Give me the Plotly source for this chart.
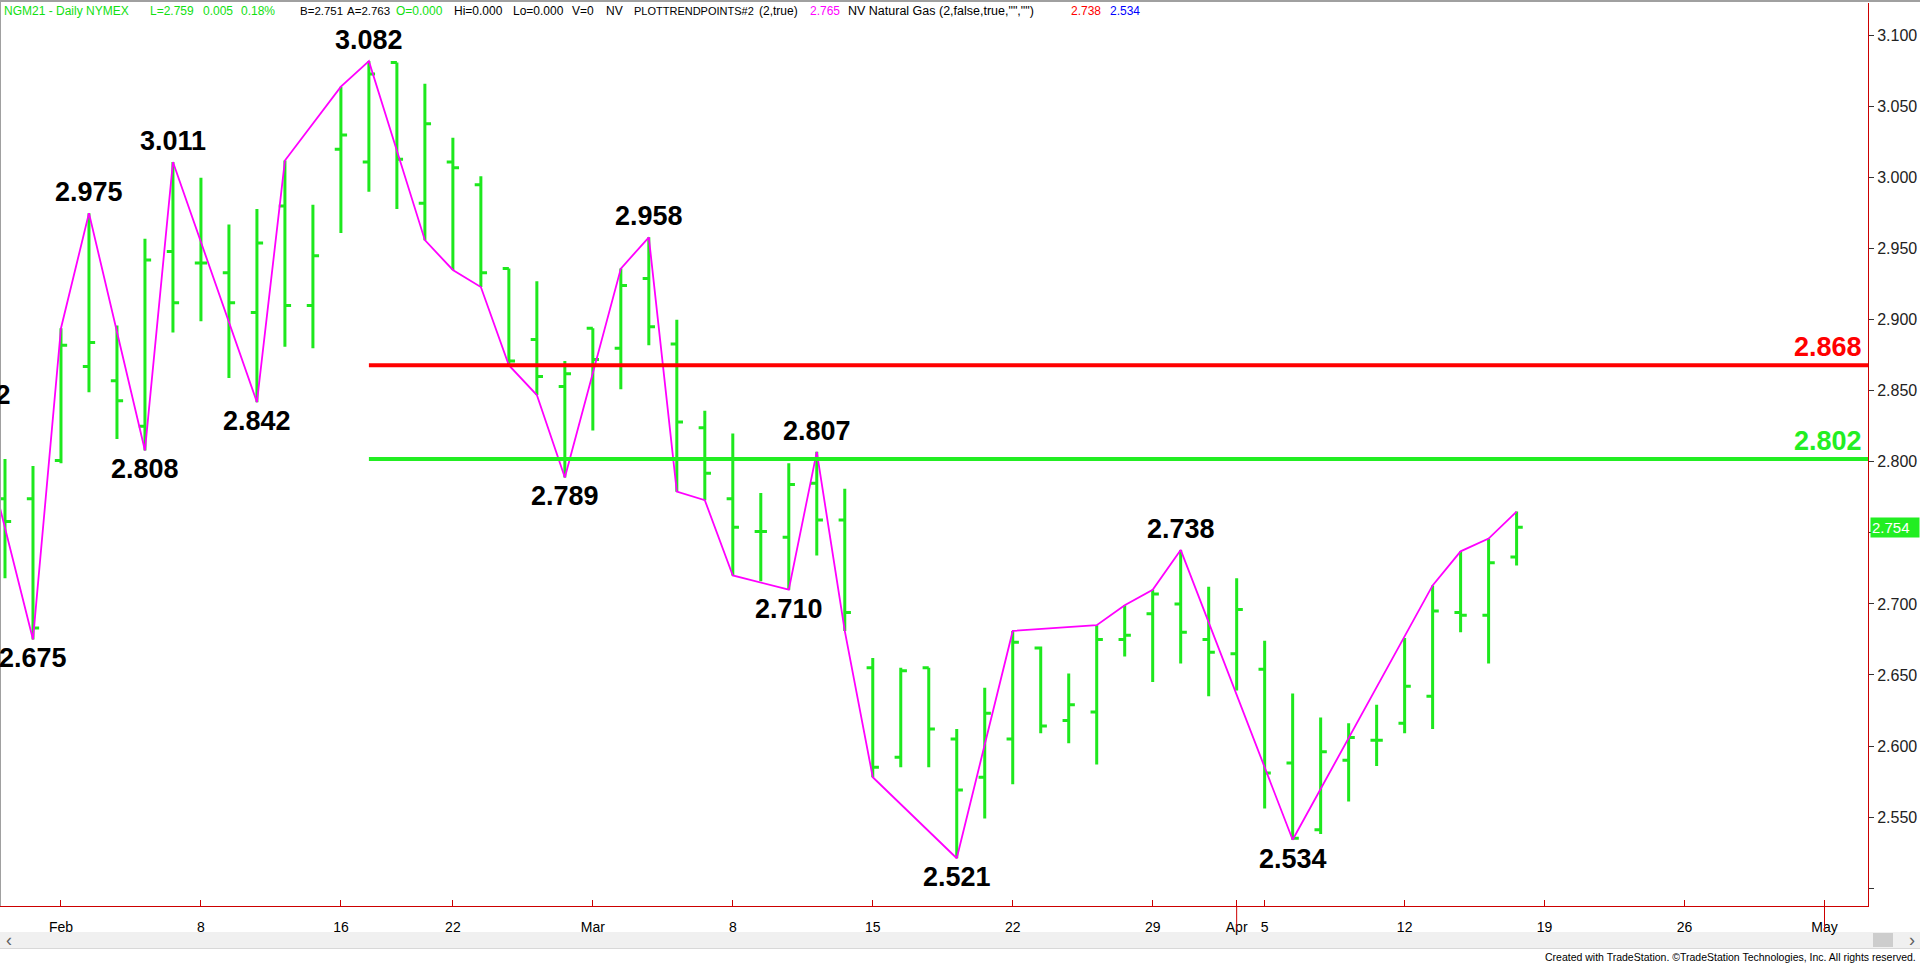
import plotly.graph_objects as go

# ---------------- data ----------------
dates = ["2021-01-28", "2021-01-29",
         "2021-02-01", "2021-02-02", "2021-02-03", "2021-02-04", "2021-02-05",
         "2021-02-08", "2021-02-09", "2021-02-10", "2021-02-11", "2021-02-12",
         "2021-02-16", "2021-02-17", "2021-02-18", "2021-02-19",
         "2021-02-22", "2021-02-23", "2021-02-24", "2021-02-25", "2021-02-26",
         "2021-03-01", "2021-03-02", "2021-03-03", "2021-03-04", "2021-03-05",
         "2021-03-08", "2021-03-09", "2021-03-10", "2021-03-11", "2021-03-12",
         "2021-03-15", "2021-03-16", "2021-03-17", "2021-03-18", "2021-03-19",
         "2021-03-22", "2021-03-23", "2021-03-24", "2021-03-25", "2021-03-26",
         "2021-03-29", "2021-03-30", "2021-03-31", "2021-04-01",
         "2021-04-05", "2021-04-06", "2021-04-07", "2021-04-08", "2021-04-09",
         "2021-04-12", "2021-04-13", "2021-04-14", "2021-04-15", "2021-04-16"]
opens = [2.774, 2.774,
         2.801, 2.867, 2.857, 2.825, 2.948,
         2.940, 2.933, 2.905, 2.980, 2.910,
         3.020, 3.011, 3.081, 2.982,
         3.011, 2.995, 2.936, 2.886, 2.853,
         2.894, 2.880, 2.929, 2.883, 2.824,
         2.774, 2.751, 2.747, 2.785, 2.759,
         2.655, 2.592, 2.655, 2.605, 2.578,
         2.605, 2.669, 2.618, 2.624, 2.675,
         2.693, 2.700, 2.675, 2.665,
         2.654, 2.588, 2.541, 2.590, 2.604,
         2.616, 2.635, 2.694, 2.692, 2.733]
highs = [2.802, 2.797,
         2.894, 2.975, 2.896, 2.957, 3.011,
         3.000, 2.967, 2.978, 3.012, 2.981,
         3.064, 3.082, 3.081, 3.066,
         3.028, 3.001, 2.936, 2.927, 2.871,
         2.894, 2.936, 2.958, 2.900, 2.836,
         2.820, 2.778, 2.799, 2.807, 2.781,
         2.662, 2.655, 2.655, 2.612, 2.641,
         2.681, 2.670, 2.651, 2.685, 2.699,
         2.710, 2.738, 2.712, 2.718,
         2.674, 2.637, 2.620, 2.616, 2.629,
         2.676, 2.713, 2.737, 2.746, 2.765]
lows = [2.718, 2.675,
        2.799, 2.849, 2.816, 2.808, 2.891,
        2.899, 2.859, 2.842, 2.881, 2.880,
        2.961, 2.990, 2.978, 2.956,
        2.935, 2.923, 2.868, 2.847, 2.789,
        2.822, 2.851, 2.882, 2.779, 2.773,
        2.720, 2.716, 2.710, 2.734, 2.681,
        2.578, 2.585, 2.585, 2.521, 2.549,
        2.573, 2.609, 2.602, 2.587, 2.663,
        2.645, 2.658, 2.635, 2.639,
        2.556, 2.534, 2.538, 2.561, 2.586,
        2.609, 2.612, 2.680, 2.658, 2.727]
closes = [2.758, 2.683,
          2.882, 2.884, 2.843, 2.942, 2.912,
          2.940, 2.912, 2.954, 2.910, 2.945,
          3.030, 3.073, 3.013, 3.038,
          3.007, 2.933, 2.871, 2.860, 2.862,
          2.872, 2.924, 2.895, 2.828, 2.792,
          2.754, 2.751, 2.784, 2.759, 2.694,
          2.585, 2.653, 2.612, 2.569, 2.623,
          2.673, 2.614, 2.629, 2.675, 2.678,
          2.707, 2.680, 2.666, 2.696,
          2.581, 2.535, 2.596, 2.606, 2.604,
          2.642, 2.695, 2.692, 2.729, 2.754]

# PlotTrendPoints swing line
trend_dates = ["2021-01-27", "2021-01-29", "2021-02-01", "2021-02-02", "2021-02-04",
               "2021-02-05", "2021-02-10", "2021-02-11", "2021-02-16", "2021-02-17",
               "2021-02-19", "2021-02-22", "2021-02-23", "2021-02-24", "2021-02-25",
               "2021-02-26", "2021-03-02", "2021-03-03", "2021-03-04", "2021-03-05",
               "2021-03-08", "2021-03-10", "2021-03-11", "2021-03-12", "2021-03-15",
               "2021-03-18", "2021-03-22", "2021-03-25", "2021-03-26", "2021-03-29",
               "2021-03-30", "2021-04-06", "2021-04-13", "2021-04-14", "2021-04-15",
               "2021-04-16"]
trend_values = [2.832, 2.675, 2.894, 2.975, 2.808,
                3.011, 2.842, 3.012, 3.064, 3.082,
                2.956, 2.935, 2.923, 2.868, 2.847,
                2.789, 2.936, 2.958, 2.779, 2.773,
                2.720, 2.710, 2.807, 2.681, 2.578,
                2.521, 2.681, 2.685, 2.699, 2.710,
                2.738, 2.534, 2.713, 2.737, 2.746,
                2.765]

# labelled swing pivots
pivot_dates = ["2021-01-29", "2021-02-02", "2021-02-04", "2021-02-05", "2021-02-10",
               "2021-02-17", "2021-02-26", "2021-03-03", "2021-03-10", "2021-03-11",
               "2021-03-18", "2021-03-30", "2021-04-06"]
pivot_values = [2.675, 2.975, 2.808, 3.011, 2.842,
                3.082, 2.789, 2.958, 2.710, 2.807,
                2.521, 2.738, 2.534]
pivot_kinds = ["low", "high", "low", "high", "low",
               "high", "low", "high", "low", "high",
               "low", "high", "low"]
# pivot just left of the visible window (only its last digit shows)
offscreen_pivot_value = 2.832

level_values = [2.868, 2.802]
level_colors = ["#ff0000", "#22ee22"]
level_start = "2021-02-17"

last_price = 2.754

tick_dates = ["2021-02-01", "2021-02-08", "2021-02-16", "2021-02-22", "2021-03-01",
              "2021-03-08", "2021-03-15", "2021-03-22", "2021-03-29", "2021-04-01",
              "2021-04-05", "2021-04-12", "2021-04-19", "2021-04-26", "2021-05-03"]
tick_labels = ["Feb", "8", "16", "22", "Mar", "8", "15", "22", "29", "Apr",
               "5", "12", "19", "26", "May"]
month_marks = ["2021-04-01", "2021-05-03"]
ytick_vals = [2.50, 2.55, 2.60, 2.65, 2.70, 2.75, 2.80, 2.85, 2.90, 2.95, 3.00, 3.05, 3.10]
ytick_hidden = [2.50, 2.75]   # unlabeled (covered by the last-price box at 2.75)
ytick_text = ["" if v in ytick_hidden else "%.3f" % v for v in ytick_vals]

# ---------------- layout geometry ----------------
W, H = 1920, 963
PL, PR, PT, PB = 0, 1868, 3, 906


def xp(px):
    return (px - PL) / (PR - PL)


def yp(py):
    return (PB - py) / (PB - PT)


BAR_GREEN = "#1ee81e"
ARIAL = "Liberation Sans, Arial, sans-serif"
HEAD_GREEN = "#11e011"

fig = go.Figure()

fig.add_trace(go.Ohlc(
    x=dates, open=opens, high=highs, low=lows, close=closes,
    increasing=dict(line=dict(color=BAR_GREEN, width=3)),
    decreasing=dict(line=dict(color=BAR_GREEN, width=3)),
    tickwidth=0.22, hoverinfo="skip", showlegend=False,
))

fig.add_trace(go.Scatter(
    x=trend_dates, y=trend_values, mode="lines",
    line=dict(color="#ff00ff", width=1.8),
    hoverinfo="skip", showlegend=False,
))

shapes = []
annotations = []

# support / resistance levels
for val, col in zip(level_values, level_colors):
    shapes.append(dict(type="line", xref="x", yref="y", x0=level_start, x1="2021-05-20",
                       y0=val, y1=val, line=dict(color=col, width=4), layer="above"))
    annotations.append(dict(xref="paper", yref="y", x=xp(1864), y=val, xanchor="right",
                            yanchor="bottom", yshift=1, text="%.3f" % val, showarrow=False,
                            font=dict(family=ARIAL, size=27, color=col, weight=700)))

# pivot labels
for d, v, k in zip(pivot_dates, pivot_values, pivot_kinds):
    annotations.append(dict(
        xref="x", yref="y", x=d, y=v, text="%.3f" % v, showarrow=False,
        xanchor="center", yanchor="bottom" if k == "high" else "top",
        yshift=4 if k == "high" else -2,
        font=dict(family=ARIAL, size=27, color="black", weight=700)))
# off-screen pivot (Jan 27): anchored on first visible bar, shifted one bar left
annotations.append(dict(
    xref="x", yref="y", x=dates[0], y=offscreen_pivot_value, xshift=-28,
    text="%.3f" % offscreen_pivot_value, showarrow=False, xanchor="center",
    yanchor="bottom", yshift=4, font=dict(family=ARIAL, size=27, color="black", weight=700)))

# last price marker on the y axis
annotations.append(dict(xref="paper", yref="y", x=xp(1870), y=last_price, xanchor="left",
                        yanchor="middle", text="%.3f" % last_price, showarrow=False,
                        bgcolor="#22ee22", borderpad=1, width=46, align="left",
                        font=dict(family=ARIAL, size=15, color="white")))

# header text, each word group anchored where it sits in the reference
header = [
    (3, "NGM21 - Daily NYMEX", HEAD_GREEN, 12),
    (149, "L=2.759", HEAD_GREEN, 12),
    (202, "0.005", HEAD_GREEN, 12),
    (240, "0.18%", HEAD_GREEN, 12),
    (299, "B=2.751", "black", 11.5),
    (346, "A=2.763", "black", 11.5),
    (395, "O=0.000", HEAD_GREEN, 12),
    (453, "Hi=0.000", "black", 12),
    (512, "Lo=0.000", "black", 12),
    (571, "V=0", "black", 12),
    (605, "NV", "black", 12),
    (633, "PLOTTRENDPOINTS#2", "black", 11),
    (758, "(2,true)", "black", 12),
    (809, "2.765", "#ff00ff", 12),
    (847, "NV Natural Gas (2,false,true,\"\",\"\")", "black", 12.5),
    (1070, "2.738", "#ff0000", 12),
    (1109, "2.534", "#0000ff", 12),
]
for px, txt, col, sz in header:
    annotations.append(dict(xref="paper", yref="paper", x=xp(px), y=yp(10.5), xanchor="left",
                            yanchor="middle", text=txt, showarrow=False, borderpad=0,
                            font=dict(family=ARIAL, size=sz, color=col)))

# footer
annotations.append(dict(xref="paper", yref="paper", x=xp(1917), y=yp(957), xanchor="right",
                        yanchor="middle", showarrow=False, borderpad=0,
                        text="Created with TradeStation. \u00a9TradeStation Technologies, Inc. All rights reserved.",
                        font=dict(family=ARIAL, size=10.5, color="black")))

# month separator marks below the axis
for d in month_marks:
    shapes.append(dict(type="line", xref="x", yref="paper", x0=d, x1=d,
                       y0=yp(906), y1=yp(931), line=dict(color="#cc0000", width=1)))

# scrollbar strip
shapes.append(dict(type="rect", xref="paper", yref="paper", x0=xp(0), x1=xp(1920),
                   y0=yp(948), y1=yp(932), fillcolor="#f0f0f0", line=dict(width=0), layer="below"))
shapes.append(dict(type="line", xref="paper", yref="paper", x0=xp(0), x1=xp(1920),
                   y0=yp(948.5), y1=yp(948.5), line=dict(color="#d8d8d8", width=1)))
shapes.append(dict(type="rect", xref="paper", yref="paper", x0=xp(1873), x1=xp(1893),
                   y0=yp(947), y1=yp(933), fillcolor="#cdcdcd", line=dict(width=0)))
annotations.append(dict(xref="paper", yref="paper", x=xp(4), y=yp(940), xanchor="left",
                        yanchor="middle", text="\u2039", showarrow=False,
                        font=dict(family=ARIAL, size=18, color="#606060")))
annotations.append(dict(xref="paper", yref="paper", x=xp(1912), y=yp(940), xanchor="center",
                        yanchor="middle", text="\u203a", showarrow=False,
                        font=dict(family=ARIAL, size=18, color="#606060")))
# window frame lines
shapes.append(dict(type="line", xref="paper", yref="paper", x0=xp(0), x1=xp(1920),
                   y0=yp(1), y1=yp(1), line=dict(color="#a0a0a0", width=2)))
shapes.append(dict(type="line", xref="paper", yref="paper", x0=xp(0.5), x1=xp(0.5),
                   y0=yp(1), y1=yp(906), line=dict(color="#a0a0a0", width=1)))

fig.update_layout(
    width=W, height=H,
    margin=dict(l=PL, r=W - PR, t=PT, b=H - PB, pad=0),
    paper_bgcolor="white", plot_bgcolor="white",
    shapes=shapes, annotations=annotations,
    showlegend=False,
    xaxis=dict(
        type="date",
        rangebreaks=[dict(bounds=["sat", "mon"]), dict(values=["2021-02-15", "2021-04-02"])],
        range=["2021-01-27 19:43", "2021-05-04 13:17"],
        rangeslider=dict(visible=False),
        tickmode="array", tickvals=tick_dates, ticktext=tick_labels,
        ticks="inside", ticklen=6, tickcolor="#cc0000", tickwidth=1,
        ticklabelstandoff=8,
        showline=True, linecolor="#cc0000", linewidth=1,
        showgrid=False, zeroline=False,
        tickfont=dict(family=ARIAL, size=14, color="black"),
        fixedrange=True,
    ),
    yaxis=dict(
        side="right", range=[2.4874, 3.1229],
        tickmode="array", tickvals=ytick_vals, ticktext=ytick_text,
        ticks="outside", ticklen=5, tickcolor="#333333", tickwidth=1,
        showline=True, linecolor="#cc0000", linewidth=1,
        showgrid=False, zeroline=False,
        tickfont=dict(family=ARIAL, size=16, color="#222222"),
        fixedrange=True,
    ),
)

fig.write_html("out.html", config={"displayModeBar": False},
               post_script="document.body.style.margin='0';document.body.style.overflow='hidden';")
